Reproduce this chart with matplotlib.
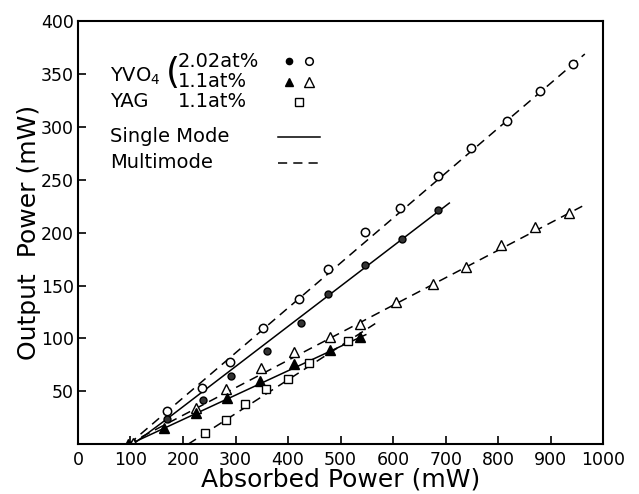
import matplotlib
matplotlib.use("Agg")
import matplotlib.pyplot as plt

# measured points (absorbed power mW, output power mW)
yvo4_202_multi_x = [169.5, 236, 289.5, 352, 421, 476, 547, 613, 686, 749, 817, 880, 943]
yvo4_202_multi_y = [31, 53, 77.5, 109.7, 137, 165.5, 200.5, 223, 254, 280, 306, 334, 360]

yvo4_202_single_x = [169.5, 238, 291, 360, 425, 476, 547, 617, 686]
yvo4_202_single_y = [23.6, 41.6, 64.3, 88, 114.4, 142, 169, 194, 221]

yvo4_11_multi_x = [105, 225, 282, 349, 411, 480, 537, 606, 676, 739, 806, 870, 935]
yvo4_11_multi_y = [1, 34, 52, 72, 87, 101, 113.5, 134, 151, 168, 188, 205, 219]

yvo4_11_single_x = [96, 164, 225, 284, 347, 411, 480, 537]
yvo4_11_single_y = [0, 15, 29, 43.5, 59.6, 75.7, 89, 101]

yag_x = [242, 282, 318, 358, 400, 440, 514]
yag_y = [10.4, 22.7, 37.8, 52, 61.5, 76.6, 97.4]

# hand-drawn fit lines
fit_202_multi = ([97, 965], [0, 369])
fit_202_single = ([105, 170, 707], [0, 24, 228])
fit_11_multi = ([95, 960], [0, 225])
fit_11_single = ([99, 548], [0, 103.5])
fit_yag = ([210, 566], [0, 114])

x_ticks = [0, 100, 200, 300, 400, 500, 600, 700, 800, 900, 1000]
y_ticks = [50, 100, 150, 200, 250, 300, 350, 400]

plt.rcParams['font.family'] = ['DejaVu Sans']

fig = plt.figure(figsize=(6.39, 4.94), dpi=100)
ax = fig.add_axes([0.122, 0.101, 0.822, 0.856])

dash = (0, (6, 4))
lw = 1.1

ax.plot(*fit_202_multi, color='black', lw=lw, linestyle=dash)
ax.plot(*fit_202_single, color='black', lw=lw)
ax.plot(*fit_11_multi, color='black', lw=lw, linestyle=dash)
ax.plot(*fit_11_single, color='black', lw=lw)
ax.plot(*fit_yag, color='black', lw=lw, linestyle=dash)

ax.plot(yvo4_202_multi_x, yvo4_202_multi_y, 'o', ms=6, mfc='white', mec='black', mew=1.1)
ax.plot(yvo4_202_single_x, yvo4_202_single_y, 'o', ms=5, mfc='#333333', mec='black')
ax.plot(yvo4_11_multi_x, yvo4_11_multi_y, '^', ms=7, mfc='white', mec='black', mew=1.0)
ax.plot(yvo4_11_single_x, yvo4_11_single_y, '^', ms=6.5, mfc='black', mec='black')
ax.plot(yag_x, yag_y, 's', ms=6, mfc='white', mec='black', mew=1.0)

ax.set_xlim(0, 1000)
ax.set_ylim(0, 400)
ax.set_xticks(x_ticks)
ax.set_xticklabels([str(v) for v in x_ticks])
ax.set_yticks(y_ticks)
ax.set_yticklabels([str(v) for v in y_ticks])
ax.tick_params(direction='in', length=6, width=1.2, labelsize=12.5, pad=5)
ax.tick_params(axis='y', pad=3)
for s in ax.spines.values():
    s.set_linewidth(1.5)

ax.set_xlabel('Absorbed Power (mW)', fontsize=18, labelpad=-1)
ax.set_ylabel('Output  Power (mW)', fontsize=18, labelpad=0)

# legend drawn by hand, as in the original figure
tr = ax.transAxes
fs = 14
ax.text(0.061, 0.87, r'YVO$_4$', transform=tr, fontsize=fs, va='center')
ax.text(0.168, 0.878, '(', transform=tr, fontsize=26, va='center')
ax.text(0.19, 0.905, '2.02at%', transform=tr, fontsize=fs, va='center')
ax.text(0.19, 0.857, '1.1at%', transform=tr, fontsize=fs, va='center')
ax.text(0.061, 0.81, 'YAG', transform=tr, fontsize=fs, va='center')
ax.text(0.19, 0.81, '1.1at%', transform=tr, fontsize=fs, va='center')
ax.text(0.061, 0.727, 'Single Mode', transform=tr, fontsize=fs, va='center')
ax.text(0.061, 0.665, 'Multimode', transform=tr, fontsize=fs, va='center')

ax.plot([0.402], [0.905], 'o', ms=4.5, mfc='black', mec='black', transform=tr)
ax.plot([0.44], [0.905], 'o', ms=5.5, mfc='white', mec='black', mew=1.1, transform=tr)
ax.plot([0.402], [0.857], '^', ms=6, mfc='black', mec='black', transform=tr)
ax.plot([0.44], [0.857], '^', ms=6.5, mfc='white', mec='black', transform=tr)
ax.plot([0.42], [0.81], 's', ms=5.5, mfc='white', mec='black', transform=tr)
ax.plot([0.381, 0.461], [0.727, 0.727], color='black', lw=lw, transform=tr)
ax.plot([0.381, 0.461], [0.665, 0.665], color='black', lw=lw, linestyle=dash, transform=tr)

fig.savefig('out.png', dpi=100)
